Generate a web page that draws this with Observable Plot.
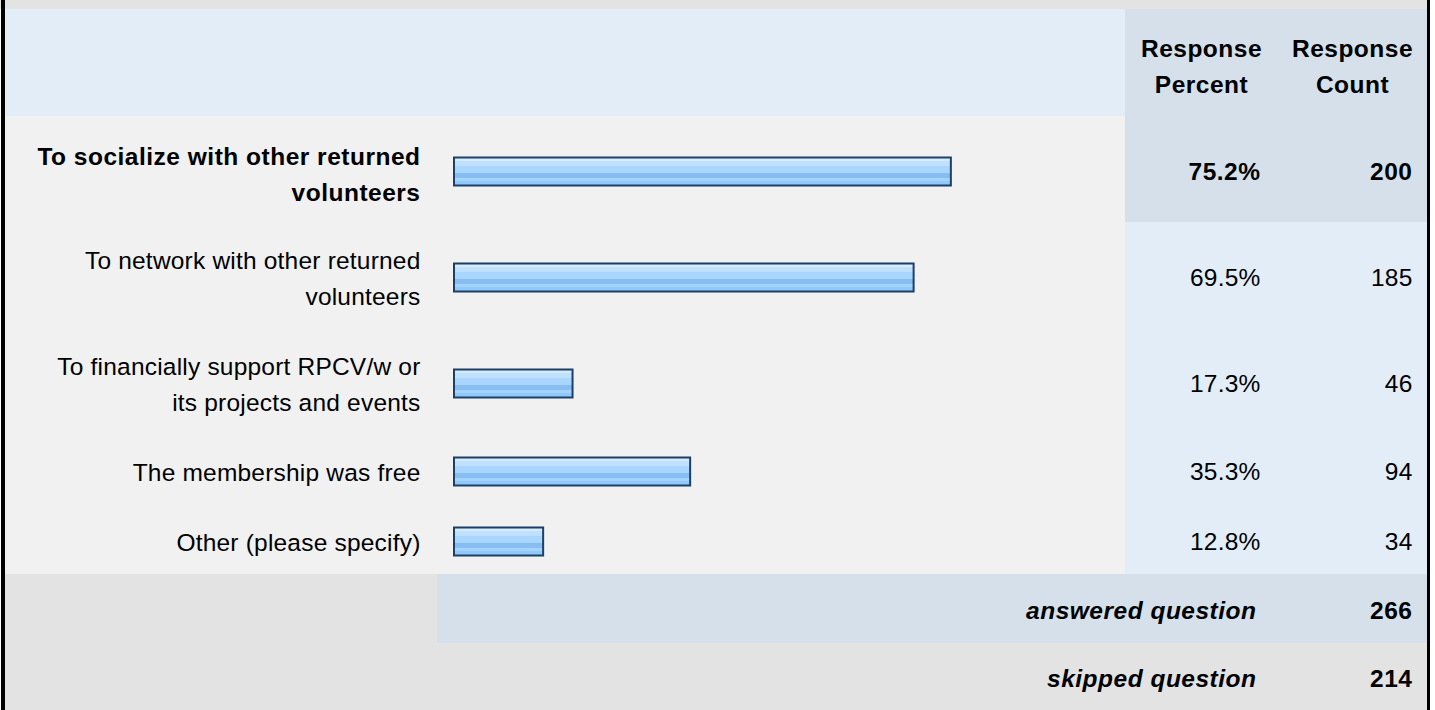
<!DOCTYPE html>
<html>
<head>
<meta charset="utf-8">
<script src="https://cdn.jsdelivr.net/npm/d3@7"></script>
<script src="https://cdn.jsdelivr.net/npm/@observablehq/plot@0.6"></script>
<style>
  html, body { margin: 0; padding: 0; background: #ffffff; }
  svg { display: block; }
  svg g[font-weight="bold"] text { letter-spacing: 0.5px; }
  svg g:not([font-weight="bold"]) > text { letter-spacing: 0.2px; }
</style>
</head>
<body>
<div id="chart"></div>
<script>
// ---- data ----
const categories = [
  "To socialize with other returned\nvolunteers",
  "To network with other returned\nvolunteers",
  "To financially support RPCV/w or\nits projects and events",
  "The membership was free",
  "Other (please specify)"
];
const percents = [75.2, 69.5, 17.3, 35.3, 12.8];
const counts = [200, 185, 46, 94, 34];
const headers = ["Response\nPercent", "Response\nCount"];
const summaryLabels = ["answered question", "skipped question"];
const summaryCounts = [266, 214];
const highlightedRow = 0;

// ---- layout ----
const W = 1435, H = 710;
const FS = 24.5;
const topStrip = 9, headerBottom = 116, lineH = 36, rowPad = 34;
const summaryHeights = [69, 67];
const colX = { border: 1, labelL: 5, chartL: 437, pctL: 1125, cntL: 1277, right: 1427, borderR: 1430 };
const barStart = 459.5, pxPerPct = 6.534;
const X = px => (px - barStart) / pxPerPct; // pixel -> x-scale units
const barHalf = 14, barShift = 2.5;

let cursor = headerBottom;
const rows = categories.map((label, i) => {
  const lines = label.split("\n").length;
  const h = rowPad + lineH * lines;
  const r = { i, label, pct: percents[i], count: counts[i], y1: cursor, y2: cursor + h, yc: cursor + h / 2, bold: i === highlightedRow };
  cursor += h;
  return r;
});
const bodyBottom = cursor;
const summary = summaryLabels.map((label, i) => {
  const h = summaryHeights[i];
  const r = { label, count: summaryCounts[i], y1: cursor, y2: cursor + h, yc: cursor + h / 2 };
  cursor += h;
  return r;
});

const bg = [
  { x1: 0, x2: colX.borderR, y1: 0, y2: topStrip, fill: "#e3e3e3" },
  { x1: colX.labelL, x2: colX.pctL, y1: topStrip, y2: headerBottom, fill: "#e3edf8" },
  { x1: colX.pctL, x2: colX.right, y1: topStrip, y2: headerBottom, fill: "#d5e0ea" },
  { x1: colX.labelL, x2: colX.pctL, y1: headerBottom, y2: bodyBottom, fill: "#f1f1f1" },
  { x1: colX.pctL, x2: colX.right, y1: headerBottom, y2: bodyBottom, fill: "#e3edf8" },
  { x1: colX.pctL, x2: colX.right, y1: rows[highlightedRow].y1, y2: rows[highlightedRow].y2, fill: "#d5e0ea" },
  { x1: colX.labelL, x2: colX.chartL, y1: summary[0].y1, y2: summary[0].y2, fill: "#e3e3e3" },
  { x1: colX.chartL, x2: colX.right, y1: summary[0].y1, y2: summary[0].y2, fill: "#d5e0ea" },
  { x1: colX.labelL, x2: colX.right, y1: summary[1].y1, y2: summary[1].y2, fill: "#e3e3e3" },
  { x1: colX.border, x2: colX.labelL, y1: 0, y2: H, fill: "#000000" },
  { x1: colX.right, x2: colX.borderR, y1: 0, y2: H, fill: "#000000" }
];

const headerCenters = [(colX.pctL + colX.cntL) / 2, (colX.cntL + colX.right) / 2];
const labelRight = colX.chartL - 17, pctRight = colX.cntL - 17, cntRight = colX.right - 15, summaryRight = pctRight - 4;

const font = "'Liberation Sans', Arial, Helvetica, sans-serif";
const common = { fontSize: FS, fontFamily: font, fill: "#000" };

const svg = Plot.plot({
  width: W, height: H,
  marginTop: 0, marginRight: 0, marginBottom: 0, marginLeft: 0,
  x: { type: "linear", domain: [0, 100], range: [barStart, barStart + 100 * pxPerPct], axis: null },
  y: { type: "linear", domain: [0, H], range: [0, H], axis: null },
  style: { background: "#ffffff", fontFamily: font, color: "#000" },
  marks: [
    Plot.rect(bg, { x1: d => X(d.x1), x2: d => X(d.x2), y1: "y1", y2: "y2", fill: d => d.fill, shapeRendering: "crispEdges" }),
    Plot.rect(rows, {
      x1: 0, x2: "pct",
      y1: d => d.yc + barShift - barHalf, y2: d => d.yc + barShift + barHalf,
      insetLeft: -5.5,
      fill: "url(#barGrad)", stroke: "#1e3f66", strokeWidth: 2
    }),
    // header
    Plot.text(headers, { ...common, x: (d, i) => X(headerCenters[i]), y: (topStrip + headerBottom) / 2, text: d => d, fontWeight: "bold", lineHeight: 36 / FS }),
    // category labels
    Plot.text(rows.filter(d => d.bold), { ...common, x: X(labelRight), y: d => d.yc + 2, text: "label", textAnchor: "end", fontWeight: "bold", lineHeight: lineH / FS }),
    Plot.text(rows.filter(d => !d.bold), { ...common, x: X(labelRight), y: d => d.yc, text: "label", textAnchor: "end", lineHeight: lineH / FS }),
    // values
    Plot.text(rows.filter(d => d.bold), { ...common, x: X(pctRight), y: d => d.yc + 3, text: d => d.pct.toFixed(1) + "%", textAnchor: "end", fontWeight: "bold" }),
    Plot.text(rows.filter(d => !d.bold), { ...common, x: X(pctRight), y: d => d.yc + 2.5, text: d => d.pct.toFixed(1) + "%", textAnchor: "end" }),
    Plot.text(rows.filter(d => d.bold), { ...common, x: X(cntRight), y: d => d.yc + 3, text: d => String(d.count), textAnchor: "end", fontWeight: "bold" }),
    Plot.text(rows.filter(d => !d.bold), { ...common, x: X(cntRight), y: d => d.yc + 2.5, text: d => String(d.count), textAnchor: "end" }),
    // summary
    Plot.text(summary, { ...common, x: X(summaryRight), y: d => d.yc + 2, text: "label", textAnchor: "end", fontWeight: "bold", fontStyle: "italic" }),
    Plot.text(summary, { ...common, x: X(cntRight), y: d => d.yc + 2, text: d => String(d.count), textAnchor: "end", fontWeight: "bold" })
  ]
});

svg.insertAdjacentHTML("afterbegin", `
<defs>
  <linearGradient id="barGrad" x1="0" y1="0" x2="0" y2="1">
    <stop offset="0" stop-color="#d5ebff"/>
    <stop offset="0.125" stop-color="#d5ebff"/>
    <stop offset="0.125" stop-color="#bfe1ff"/>
    <stop offset="0.286" stop-color="#bfe1ff"/>
    <stop offset="0.286" stop-color="#a9d6ff"/>
    <stop offset="0.536" stop-color="#a9d6ff"/>
    <stop offset="0.536" stop-color="#87bdf1"/>
    <stop offset="0.732" stop-color="#87bdf1"/>
    <stop offset="0.732" stop-color="#a3d3ff"/>
    <stop offset="0.839" stop-color="#a3d3ff"/>
    <stop offset="0.839" stop-color="#8fc8fb"/>
    <stop offset="1" stop-color="#8fc8fb"/>
  </linearGradient>
</defs>`);

document.getElementById("chart").appendChild(svg);
</script>
</body>
</html>
